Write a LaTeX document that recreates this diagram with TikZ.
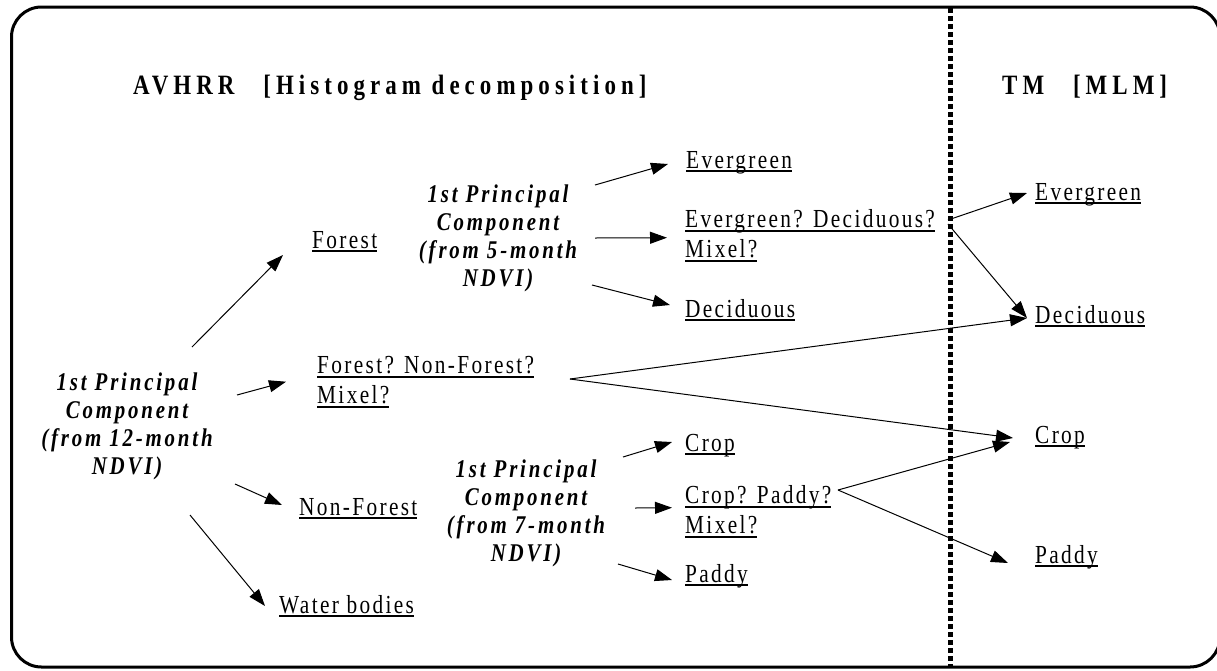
\documentclass[tikz,border=0pt]{standalone}
\usepackage{fontspec}
\setmainfont{Liberation Serif}[FakeStretch=0.82,LetterSpace=9]
\usetikzlibrary{arrows.meta,positioning}
\newcommand{\uword}[1]{\setbox0\hbox{#1}\rlap{\rule[-4.4pt]{\wd0}{2pt}}\box0}
\tikzset{
  lbl/.style={inner sep=0pt,anchor=base west,font=\fontsize{26}{30}\selectfont},
  lbltwo/.style={inner sep=0pt,anchor=west,align=left,font=\fontsize{26}{30}\selectfont},
  pcbox/.style={inner sep=0pt,anchor=center,align=center,
    font=\fontsize{25.5}{28}\selectfont\bfseries\itshape\addfontfeature{LetterSpace=11}},
  headline/.style={inner sep=0pt,anchor=base west,
    font=\fontsize{28}{30}\selectfont\bfseries\addfontfeature{LetterSpace=18}},
  arr/.style={-{Triangle[length=17pt,width=12pt]},line width=1pt}
}
\begin{document}
\begin{tikzpicture}[x=1pt,y=-1pt]
  \useasboundingbox (0,0) rectangle (1217,670);

  % frame and the AVHRR / TM divide
  \draw[line width=3pt,rounded corners=30pt] (11.5,7) rectangle (1220,667);
  \draw[line width=5pt,dash pattern=on 5pt off 3pt] (950,8) -- (950,668);

  \node[headline] (avhrr) at (133,94) {AVHRR\hspace{18pt} [Histogram decomposition]};
  \node[headline] (tm) at (1002,94) {TM\hspace{18pt} [MLM]};

  % AVHRR side
  \node[pcbox] (pc12) at (127,426) {1st Principal\\Component\\(from 12-month\\NDVI)};
  \node[lbl] (forest) at (312,248) {\uword{Forest}};
  \node[lbltwo] (fnf) at (317,381.7) {\uword{Forest? Non-Forest?}\\\uword{Mixel?}};
  \node[lbl] (nonforest) at (299,515) {\uword{Non-Forest}};
  \node[lbl] (water) at (279,613) {\uword{Water bodies}};

  \node[pcbox] (pc5) at (498,238) {1st Principal\\Component\\(from 5-month\\NDVI)};
  \node[lbl] (ever1) at (686,168) {\uword{Evergreen}};
  \node[lbltwo] (edm) at (685,235.7) {\uword{Evergreen? Deciduous?}\\\uword{Mixel?}};
  \node[lbl] (decid1) at (685,317) {\uword{Deciduous}};

  \node[pcbox] (pc7) at (526,513) {1st Principal\\Component\\(from 7-month\\NDVI)};
  \node[lbl] (crop1) at (685,451) {\uword{Crop}};
  \node[lbltwo] (cpm) at (685,511.7) {\uword{Crop? Paddy?}\\\uword{Mixel?}};
  \node[lbl] (paddy1) at (685,582) {\uword{Paddy}};

  % TM side
  \node[lbl] (ever2) at (1035,200) {\uword{Evergreen}};
  \node[lbl] (decid2) at (1035,323) {\uword{Deciduous}};
  \node[lbl] (crop2) at (1035,443) {\uword{Crop}};
  \node[lbl] (paddy2) at (1035,563) {\uword{Paddy}};

  \coordinate (fnfj) at ([shift={(253,-2.7)}]fnf.west);
  \coordinate (cpmj) at ([shift={(153,-21.7)}]cpm.west);

  \draw[arr] ([shift={(65,-79)}]pc12.center) -- ([shift={(-29,7)}]forest.base west);
  \draw[arr] ([shift={(110,-31)}]pc12.center) -- ([shift={(-31,0)}]fnf.west);
  \draw[arr] ([shift={(108,58)}]pc12.center) -- ([shift={(-17,-10)}]nonforest.base west);
  \draw[arr] ([shift={(63,89)}]pc12.center) -- ([shift={(-14,-7)}]water.base west);

  \draw[arr] ([shift={(97,-53)}]pc5.center) -- ([shift={(-18,-4)}]ever1.base west);
  \draw[arr] ([shift={(97,0)}]pc5.center) -- ([shift={(-18,2)}]edm.west);
  \draw[arr] ([shift={(94,47)}]pc5.center) -- ([shift={(-15,-12)}]decid1.base west);

  \draw[arr] ([shift={(97,-56)}]pc7.center) -- ([shift={(-13,-9)}]crop1.base west);
  \draw[arr] ([shift={(109,-5)}]pc7.center) -- ([shift={(-13,-4)}]cpm.west);
  \draw[arr] ([shift={(92,51)}]pc7.center) -- ([shift={(-13,-2)}]paddy1.base west);

  \draw[arr] ([shift={(263,-15.7)}]edm.west) -- ([shift={(-8,-7)}]ever2.base west);
  \draw[arr] ([shift={(263,-11.7)}]edm.west) -- ([shift={(-8,-5)}]decid2.base west);
  \draw[arr] (fnfj) -- ([shift={(-8,-5)}]decid2.base west);
  \draw[arr] (fnfj) -- ([shift={(-22,-5)}]crop2.base west);
  \draw[arr] (cpmj) -- ([shift={(-25,-1)}]crop2.base west);
  \draw[arr] (cpmj) -- ([shift={(-27,0)}]paddy2.base west);

\end{tikzpicture}
\end{document}
